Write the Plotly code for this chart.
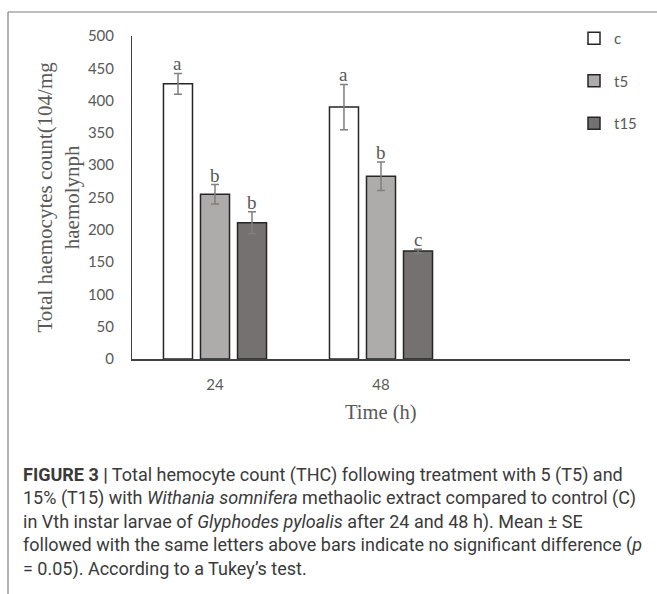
import plotly.graph_objects as go

# ---- data ----
times = ["24", "48"]
series_names = ["c", "t5", "t15"]
c_vals = [426, 390]
t5_vals = [255, 283]
t15_vals = [211, 167]
c_err = [16, 35]
t5_err = [15, 22]
t15_err = [17, 3]
c_letters = ["a", "a"]
t5_letters = ["b", "b"]
t15_letters = ["b", "c"]
y_ticks = [0, 50, 100, 150, 200, 250, 300, 350, 400, 450, 500]

W, H = 657, 594
L, R, T, B = 132, 27, 36, 235
PW, PH = W - L - R, H - T - B
BARGAP = 0.331
GROUPGAP = 0.216

def px(x):
    return (x - L) / PW

def py(y):
    return (H - B - y) / PH

fills = ["#FFFFFF", "#AEABAB", "#767171"]
vals = [c_vals, t5_vals, t15_vals]
errs = [c_err, t5_err, t15_err]
letters = [c_letters, t5_letters, t15_letters]
SERIF = "Liberation Serif, Times New Roman, serif"

fig = go.Figure()
for i, name in enumerate(series_names):
    fig.add_trace(go.Bar(
        name=name, x=times, y=vals[i],
        marker=dict(color=fills[i], line=dict(color="#262626", width=1.5)),
        error_y=dict(type="data", array=errs[i], color="#7F7F7F", thickness=1.5, width=4),
        legendgroup=name,
    ))

# letters above bars (category index + group offset, in axis units)
slot = (1 - BARGAP) / 3
for i in range(3):
    for j, t in enumerate(times):
        fig.add_annotation(
            x=j + (i - 1) * slot, y=vals[i][j] + errs[i][j], xref="x", yref="y",
            text=letters[i][j], showarrow=False, yanchor="bottom", yshift=-3,
            font=dict(family=SERIF, size=19, color="#595959"),
        )

# axis titles
fig.add_annotation(
    x=px(58), y=0.5, xref="paper", yref="paper",
    text="Total haemocytes count(104/mg<br>haemolynph", textangle=-90,
    showarrow=False, xanchor="center", yanchor="middle",
    font=dict(family=SERIF, size=21, color="#595959"),
)
fig.add_annotation(
    x=0.5, y=py(412), xref="paper", yref="paper",
    text="Time (h)", showarrow=False, xanchor="center", yanchor="middle",
    font=dict(family=SERIF, size=20.5, color="#595959"),
)

# caption
caption_lines = [
    "<b>FIGURE 3 |</b> Total hemocyte count (THC) following treatment with 5 (T5) and",
    "15% (T15) with <i>Withania somnifera</i> methaolic extract compared to control (C)",
    "in Vth instar larvae of <i>Glyphodes pyloalis</i> after 24 and 48 h). Mean \u00b1 SE",
    "followed with the same letters above bars indicate no significant difference (<i>p</i>",
    "= 0.05). According to a Tukey\u2019s test.",
]
caption_y = [475, 498, 521.5, 545, 568.5]
for line, yy in zip(caption_lines, caption_y):
    fig.add_annotation(
        x=px(21), y=py(yy), xref="paper", yref="paper", text=line,
        showarrow=False, xanchor="left", yanchor="middle",
        font=dict(family="Roboto, sans-serif", size=18, color="#3A3A3A"),
    )

# frame lines
fig.add_shape(type="line", xref="paper", yref="paper", x0=px(8), x1=px(8), y0=py(12), y1=py(600),
              line=dict(color="#7F7F7F", width=1.2))
fig.add_shape(type="line", xref="paper", yref="paper", x0=px(8), x1=px(660), y0=py(12), y1=py(12),
              line=dict(color="#7F7F7F", width=1.2))

fig.update_layout(
    width=W, height=H,
    margin=dict(l=L, r=R, t=T, b=B, pad=0, autoexpand=False),
    paper_bgcolor="white", plot_bgcolor="white",
    barmode="group", bargap=BARGAP, bargroupgap=GROUPGAP,
    showlegend=True,
    legend=dict(
        xref="container", yref="container", x=574 / W, y=1 - 22 / H,
        xanchor="left", yanchor="top", traceorder="grouped", tracegroupgap=20,
        font=dict(family="Lato, sans-serif", size=15, color="#595959"),
        bgcolor="rgba(0,0,0,0)",
    ),
    xaxis=dict(
        type="category", range=[-0.5, 2.5], showline=True, linecolor="#404040", linewidth=1.5,
        ticks="", showgrid=False, zeroline=False, ticklabelstandoff=11,
        tickfont=dict(family="Lato, sans-serif", size=15, color="#595959"),
    ),
    yaxis=dict(
        range=[0, 500], tickvals=y_ticks, showline=True, linecolor="#404040", linewidth=1,
        ticks="", showgrid=False, zeroline=False, ticklabelstandoff=14,
        tickfont=dict(family="Lato, sans-serif", size=15, color="#595959"),
    ),
)

fig.write_html("out.html", config={"displayModeBar": False},
               post_script="document.body.style.margin='0';")
